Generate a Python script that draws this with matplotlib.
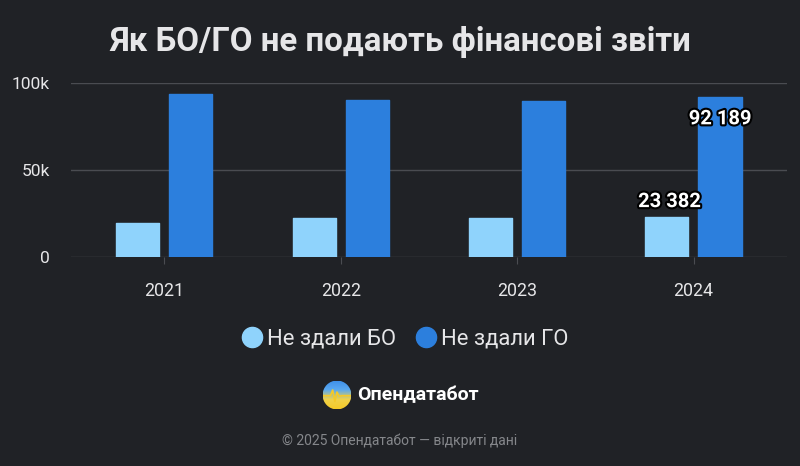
import numpy as np
import matplotlib
matplotlib.use('Agg')
import matplotlib.pyplot as plt
import matplotlib.patheffects as pe
from matplotlib.lines import Line2D
from matplotlib.patches import Circle

plt.rcParams['font.family'] = ['Roboto', 'DejaVu Sans']

years = ['2021', '2022', '2023', '2024']
not_bo = [19700, 22500, 22500, 23382]
not_go = [93600, 90200, 89600, 92189]
series_names = ['Не здали БО', 'Не здали ГО']
ytick_vals = [0, 50000, 100000]
ytick_text = ['0', '50k', '100k']

bg = '#202226'
c_bo = '#8fd3fc'
c_go = '#2c7fdd'
grid_c = '#4a4c51'
txt_c = '#e6e6e8'

fig = plt.figure(figsize=(8, 4.66), dpi=100, facecolor=bg)
ax = fig.add_axes([71 / 800, 0.4475, 716 / 800, 0.3745], facecolor=bg)

x = np.arange(len(years))
w = 0.244
ax.bar(x - 0.152, not_bo, w, color=c_bo, edgecolor=c_bo, linewidth=1.0, joinstyle='round', zorder=3)
ax.bar(x + 0.15, not_go, w, color=c_go, edgecolor=c_go, linewidth=1.0, joinstyle='round', zorder=3)

ax.set_xlim(-0.53, len(years) - 0.47)
ax.set_ylim(0, 100000)
ax.set_yticks(ytick_vals)
ax.set_yticklabels(ytick_text)
ax.set_xticks(x)
ax.set_xticklabels(years)
for s in ax.spines.values():
    s.set_visible(False)
ax.grid(axis='y', color=grid_c, linewidth=1, zorder=0)
ax.tick_params(axis='y', length=0, pad=15, labelsize=12.5, labelcolor=txt_c)
ax.tick_params(axis='x', length=5, color=grid_c, pad=13, labelsize=12.8, labelcolor=txt_c)

# подписи значень лише для останнього року
stroke = [pe.withStroke(linewidth=3, foreground='#000000')]
ax.annotate(f'{not_bo[-1]:,}'.replace(',', ' '), (x[-1] - 0.152, not_bo[-1]),
            xytext=(2, 4), textcoords='offset points', ha='center', va='bottom',
            fontsize=14.5, fontweight='bold', color='white', path_effects=stroke, zorder=5)
ax.annotate(f'{not_go[-1]:,}'.replace(',', ' '), (x[-1] + 0.15, not_go[-1]),
            xytext=(0, -16), textcoords='offset points', ha='center', va='center',
            fontsize=14.5, fontweight='bold', color='white', path_effects=stroke, zorder=5)

fig.text(0.5, 0.91, 'Як БО/ГО не подають фінансові звіти', ha='center', va='center',
         fontsize=23.8, fontweight='bold', color=txt_c)

handles = [Line2D([], [], marker='o', linestyle='', markersize=14.5, color=c) for c in (c_bo, c_go)]
fig.legend(handles, series_names, loc='center', bbox_to_anchor=(0.506, 0.272), ncol=2,
           frameon=False, fontsize=15.8, labelcolor=txt_c, handletextpad=0.15,
           columnspacing=0.9, handlelength=1.0)

# логотип
lax = fig.add_axes([337 / 800 - 0.018, 1 - 395 / 466 - 0.031, 0.036, 0.062])
lax.set_xlim(-1, 1)
lax.set_ylim(-1, 1)
lax.axis('off')
grad = np.linspace(0, 1, 100)[:, None] * np.ones((1, 100))
cmap = matplotlib.colors.LinearSegmentedColormap.from_list('ua', ['#f5c928', '#f0d24a', '#5aa9f0', '#3d8ee8'])
im = lax.imshow(grad, extent=(-1, 1, -1, 1), origin='lower', cmap=cmap, aspect='auto')
clip = Circle((0, 0), 1, transform=lax.transData)
im.set_clip_path(clip)
wx = [-1, -0.45, -0.3, -0.15, 0.0, 0.15, 0.35, 1]
wy = [-0.05, -0.05, 0.35, -0.45, 0.2, -0.1, -0.05, -0.05]
ln, = lax.plot(wx, wy, color='#f5c928', linewidth=1.2)
ln.set_clip_path(clip)

fig.text(357 / 800, 1 - 395 / 466, 'Опендатабот', ha='left', va='center',
         fontsize=14, fontweight='bold', color='white')
fig.text(0.5, 1 - 441 / 466, '© 2025 Опендатабот — відкриті дані', ha='center', va='center',
         fontsize=10, color='#85878b')

fig.savefig('out.png', dpi=100, facecolor=bg)
